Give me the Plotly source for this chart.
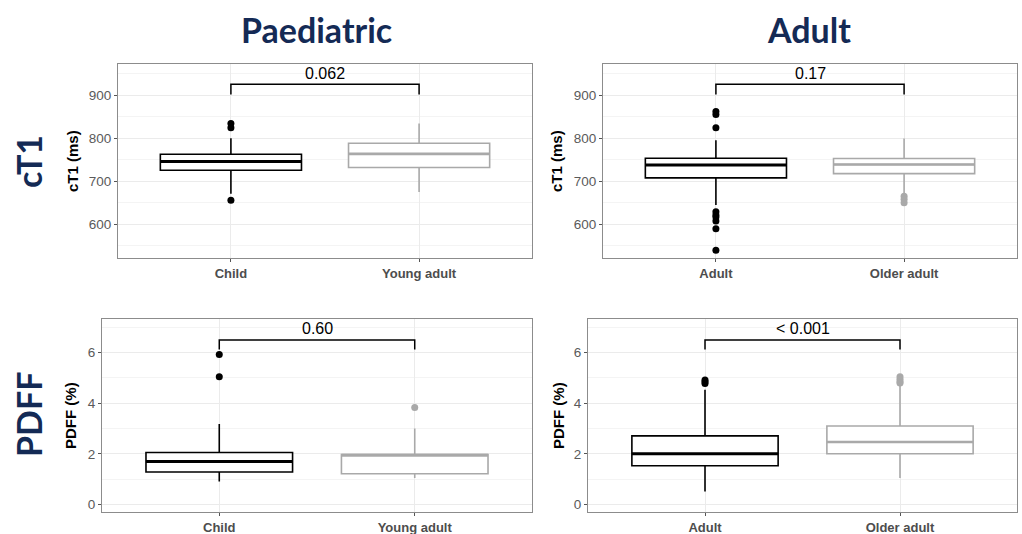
import plotly.graph_objects as go

W, H = 1022, 534

# ---------------- data ----------------
paed_groups = ["Child", "Young adult"]
adult_groups = ["Adult", "Older adult"]

# cT1 (ms) – Paediatric
ct1_paed_q1 = [725.6, 732.0]
ct1_paed_median = [745.7, 763.5]
ct1_paed_q3 = [762.8, 788.0]
ct1_paed_lower = [671.0, 675.0]
ct1_paed_upper = [800.0, 834.0]
ct1_paed_outliers = [[834.0, 824.0, 656.0], []]

# cT1 (ms) – Adult
ct1_adult_q1 = [707.8, 717.8]
ct1_adult_median = [738.0, 738.8]
ct1_adult_q3 = [753.5, 752.7]
ct1_adult_lower = [645.0, 672.0]
ct1_adult_upper = [795.0, 799.0]
ct1_adult_outliers = [[862.0, 855.0, 824.0, 629.0, 622.0, 617.0, 608.0, 590.0, 540.0],
                      [665.0, 658.0, 650.0]]

# PDFF (%) – Paediatric
pdff_paed_q1 = [1.28, 1.21]
pdff_paed_median = [1.70, 1.95]
pdff_paed_q3 = [2.05, 1.97]
pdff_paed_lower = [0.91, 1.04]
pdff_paed_upper = [3.18, 3.00]
pdff_paed_outliers = [[5.93, 5.05], [3.83]]

# PDFF (%) – Adult
pdff_adult_q1 = [1.53, 2.00]
pdff_adult_median = [2.00, 2.47]
pdff_adult_q3 = [2.71, 3.10]
pdff_adult_lower = [0.51, 1.04]
pdff_adult_upper = [4.53, 4.72]
pdff_adult_outliers = [[4.92, 4.85, 4.78], [5.05, 4.95, 4.85, 4.80]]

# p-values and bracket levels
p_values = ["0.062", "0.17", "0.60", "< 0.001"]
bracket_top = [925.0, 925.0, 6.5, 6.5]
bracket_drop = [901.0, 901.0, 6.12, 6.12]

col_titles = ["Paediatric", "Adult"]
row_titles = ["cT1", "PDFF"]
y_titles = ["cT1 (ms)", "cT1 (ms)", "PDFF (%)", "PDFF (%)"]

# ---------------- styling ----------------
NAVY = "#142A55"
BLACK = "#000000"
GREY = "#A9A9A9"
colors = [BLACK, GREY]
box_w = 0.75
FONT = "Liberation Sans"

# panel pixel boxes: (left, right, top, bottom)
panels = [(118, 532, 64, 258), (603, 1017, 64, 258),
          (102, 532, 319, 512), (588, 1017, 319, 512)]
yranges = [[522, 972], [522, 972], [-0.3, 7.33], [-0.3, 7.33]]
ydticks = [100, 100, 2, 2]
ytickvals = [[600, 700, 800, 900], [600, 700, 800, 900], [0, 2, 4, 6], [0, 2, 4, 6]]

datasets = [
    (paed_groups, ct1_paed_q1, ct1_paed_median, ct1_paed_q3, ct1_paed_lower, ct1_paed_upper, ct1_paed_outliers),
    (adult_groups, ct1_adult_q1, ct1_adult_median, ct1_adult_q3, ct1_adult_lower, ct1_adult_upper, ct1_adult_outliers),
    (paed_groups, pdff_paed_q1, pdff_paed_median, pdff_paed_q3, pdff_paed_lower, pdff_paed_upper, pdff_paed_outliers),
    (adult_groups, pdff_adult_q1, pdff_adult_median, pdff_adult_q3, pdff_adult_lower, pdff_adult_upper, pdff_adult_outliers),
]

fig = go.Figure()
layout = {}
annotations = []

for i, (groups, q1, med, q3, lo, up, outl) in enumerate(datasets):
    n = i + 1
    xa = "x" if n == 1 else f"x{n}"
    ya = "y" if n == 1 else f"y{n}"
    xkey = "xaxis" if n == 1 else f"xaxis{n}"
    ykey = "yaxis" if n == 1 else f"yaxis{n}"
    l, r, t, b = panels[i]

    for g in range(2):
        c = colors[g]
        fig.add_trace(go.Box(
            x=[g], q1=[q1[g]], median=[med[g]], q3=[q3[g]],
            lowerfence=[lo[g]], upperfence=[up[g]],
            width=box_w, whiskerwidth=0, boxpoints=False,
            fillcolor="white", line=dict(color=c, width=1.6),
            xaxis=xa, yaxis=ya, showlegend=False, hoverinfo="skip",
        ))
        # thicker median line (ggplot style)
        fig.add_trace(go.Scatter(
            x=[g - box_w / 2, g + box_w / 2], y=[med[g], med[g]],
            mode="lines", line=dict(color=c, width=3 if g == 0 else 2.6),
            xaxis=xa, yaxis=ya, showlegend=False, hoverinfo="skip",
        ))
        if outl[g]:
            fig.add_trace(go.Scatter(
                x=[g] * len(outl[g]), y=outl[g], mode="markers",
                marker=dict(color=c, size=7),
                xaxis=xa, yaxis=ya, showlegend=False, hoverinfo="skip",
            ))

    # significance bracket
    fig.add_trace(go.Scatter(
        x=[0, 0, 1, 1], y=[bracket_drop[i], bracket_top[i], bracket_top[i], bracket_drop[i]],
        mode="lines", line=dict(color="black", width=1.5),
        xaxis=xa, yaxis=ya, showlegend=False, hoverinfo="skip",
    ))
    annotations.append(dict(
        x=0.5, y=bracket_top[i], xref=xa, yref=ya, text=p_values[i],
        showarrow=False, yanchor="middle", yshift=11,
        font=dict(family=FONT, size=16, color="black"),
    ))

    layout[xkey] = dict(
        domain=[l / W, r / W], range=[-0.6, 1.6], anchor=ya,
        tickvals=[0, 1], ticktext=groups,
        tickfont=dict(family=FONT, size=13, color="#4D4D4D", weight="bold"),
        ticks="outside", ticklen=3, tickcolor="#555555",
        showgrid=True, gridcolor="#EBEBEB", gridwidth=1,
        showline=True, linecolor="#8C8C8C", linewidth=1, mirror=True,
        zeroline=False, fixedrange=True,
    )
    layout[ykey] = dict(
        domain=[1 - b / H, 1 - t / H], range=yranges[i], anchor=xa,
        tickvals=ytickvals[i],
        tickfont=dict(family=FONT, size=13.5, color="#5A5A5A"),
        ticks="outside", ticklen=3, tickcolor="#555555",
        showgrid=True, gridcolor="#EBEBEB", gridwidth=1,
        minor=dict(dtick=ydticks[i] / 2, tick0=0, showgrid=True, gridcolor="#F4F4F4", gridwidth=1),
        showline=True, linecolor="#8C8C8C", linewidth=1, mirror=True,
        zeroline=False, fixedrange=True,
    )

# axis titles (y)
ytitle_pos = [(73, 161), (557, 161), (70, 416), (558, 416)]
for (px, py), txt in zip(ytitle_pos, y_titles):
    annotations.append(dict(
        x=px / W, y=1 - py / H, xref="paper", yref="paper", text=txt,
        textangle=-90, showarrow=False, xanchor="center", yanchor="middle",
        font=dict(family=FONT, size=15, color="black", weight="bold"),
    ))

# column titles
for (px, py), txt in zip([(316, 29), (809, 29)], col_titles):
    annotations.append(dict(
        x=px / W, y=1 - py / H, xref="paper", yref="paper", text=txt,
        showarrow=False, xanchor="center", yanchor="middle",
        font=dict(family="Lato", size=34, color=NAVY, weight="bold"),
    ))

# row titles
for (px, py), txt in zip([(28, 162), (28, 415)], row_titles):
    annotations.append(dict(
        x=px / W, y=1 - py / H, xref="paper", yref="paper", text=txt,
        textangle=-90, showarrow=False, xanchor="center", yanchor="middle",
        font=dict(family="Lato", size=34, color=NAVY, weight="bold"),
    ))

fig.update_layout(
    width=W, height=H, margin=dict(l=0, r=0, t=0, b=0),
    paper_bgcolor="white", plot_bgcolor="white",
    annotations=annotations, showlegend=False,
    **layout,
)

fig.write_html(
    "out.html",
    config={"displayModeBar": False},
    post_script="document.body.style.margin='0';document.body.style.padding='0';"
                "document.documentElement.style.overflow='hidden';",
)
